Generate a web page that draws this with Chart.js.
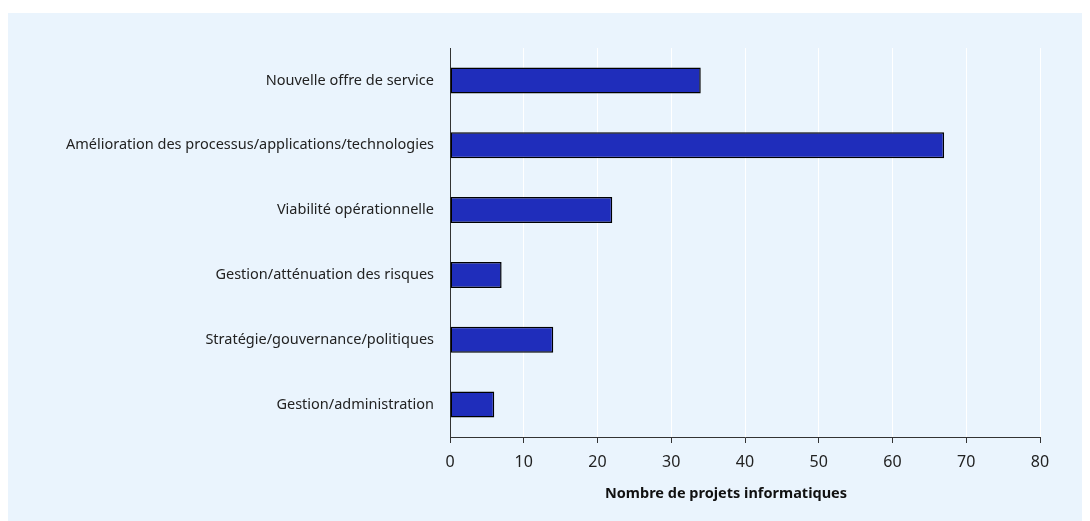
<!DOCTYPE html>
<html><head><meta charset="utf-8">
<script src="https://cdn.jsdelivr.net/npm/chart.js@4"></script>
<style>
html,body{margin:0;padding:0;background:#fff;}
#panel{position:absolute;left:8px;top:13px;width:1074px;height:508px;background:#eaf4fd;}
canvas{display:block;}
</style></head><body>
<div id="panel"><canvas id="c" width="1074" height="508"></canvas></div>
<script>
const categories = [
  "Nouvelle offre de service",
  "Amélioration des processus/applications/technologies",
  "Viabilité opérationnelle",
  "Gestion/atténuation des risques",
  "Stratégie/gouvernance/politiques",
  "Gestion/administration"
];
const projects = [34, 67, 22, 7, 14, 6];
const xTicks = [0, 10, 20, 30, 40, 50, 60, 70, 80];
const xTitle = 'Nombre de projets informatiques';

const axisTitlePlugin = {
  id: 'axisTitle',
  afterDraw(chart) {
    const { ctx, chartArea } = chart;
    ctx.save();
    ctx.font = 'bold 14.5px "Noto Sans"';
    ctx.fillStyle = '#111111';
    ctx.textAlign = 'center';
    ctx.textBaseline = 'middle';
    ctx.fillText(xTitle, (chartArea.left + chartArea.right) / 2 - 19, chartArea.bottom + 57);
    ctx.restore();
  }
};

new Chart(document.getElementById('c'), {
  type: 'bar',
  data: {
    labels: categories,
    datasets: [{
      data: projects,
      backgroundColor: '#1f2dbb',
      borderColor: '#000000',
      borderWidth: 1.5,
      borderSkipped: false,
      categoryPercentage: 0.8,
      barPercentage: 0.5
    }]
  },
  plugins: [axisTitlePlugin],
  options: {
    indexAxis: 'y',
    responsive: false,
    animation: false,
    devicePixelRatio: 1,
    layout: { padding: { left: 0, right: 42, top: 35, bottom: 0 } },
    plugins: { legend: { display: false }, tooltip: { enabled: false } },
    scales: {
      x: {
        min: xTicks[0], max: xTicks[xTicks.length - 1],
        afterBuildTicks: s => { s.ticks = xTicks.map(v => ({ value: v })); },
        grid: { color: '#ffffff', lineWidth: 1, tickColor: '#333333', tickLength: 6 },
        border: { color: '#333333', width: 1 },
        ticks: { color: '#222222', font: { family: 'Noto Sans', size: 16 }, padding: 10, maxRotation: 0 },
        afterFit: s => { s.height = 84; }
      },
      y: {
        grid: { display: false },
        border: { color: '#333333', width: 1 },
        ticks: { color: '#222222', font: { family: 'Noto Sans', size: 14.5 }, padding: 8 },
        afterFit: s => { s.width = 442; }
      }
    }
  }
});
</script>
</body></html>
